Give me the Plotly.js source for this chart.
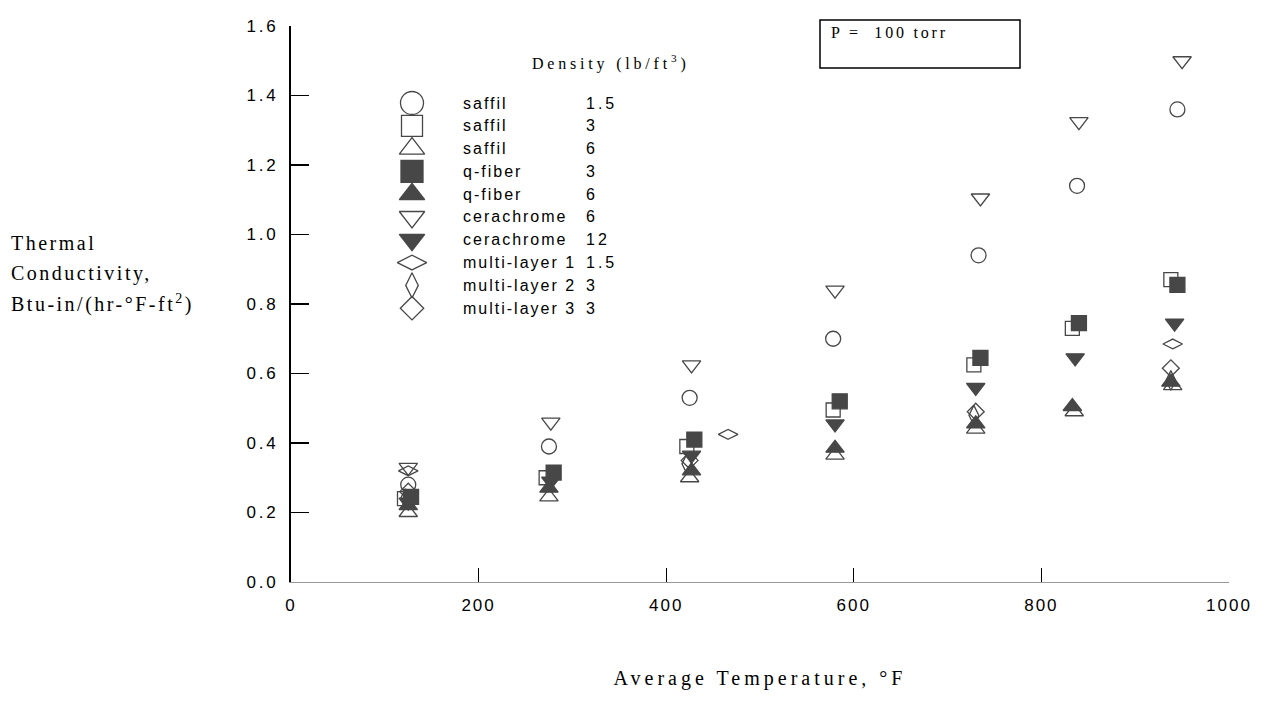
<!DOCTYPE html>
<html>
<head>
<meta charset="utf-8">
<script src="https://cdn.plot.ly/plotly-3.0.1.min.js"></script>
<style>html,body{margin:0;padding:0;background:#fff;}#chart{width:1264px;height:719px;}</style>
</head>
<body>
<div id="chart"></div>
<script>
// ---------- DATA ----------
const materials = ['saffil','saffil','saffil','q-fiber','q-fiber','cerachrome','cerachrome','multi-layer 1','multi-layer 2','multi-layer 3'];
const densities = ['1.5','3','6','3','6','6','12','1.5','3','3'];

const saffil15_T = [125, 275, 425, 578, 733, 838, 945];
const saffil15_k = [0.28, 0.39, 0.53, 0.70, 0.94, 1.14, 1.36];
const saffil3_T  = [121, 272, 422, 578, 728, 833, 938];
const saffil3_k  = [0.24, 0.30, 0.39, 0.495, 0.625, 0.73, 0.87];
const saffil6_T  = [125, 275, 425, 580, 730, 835, 940];
const saffil6_k  = [0.20, 0.245, 0.30, 0.365, 0.44, 0.49, 0.565];
const qfiber3_T  = [128, 280, 430, 585, 735, 840, 945];
const qfiber3_k  = [0.245, 0.315, 0.41, 0.52, 0.645, 0.745, 0.855];
const qfiber6_T  = [125, 275, 427, 580, 730, 833, 938];
const qfiber6_k  = [0.22, 0.27, 0.32, 0.385, 0.455, 0.505, 0.575];
const cera6_T    = [125, 277, 427, 580, 735, 840, 950];
const cera6_k    = [0.33, 0.46, 0.625, 0.84, 1.105, 1.325, 1.50];
const cera12_T   = [125, 277, 427, 580, 730, 836, 942];
const cera12_k   = [0.23, 0.29, 0.365, 0.455, 0.56, 0.645, 0.745];
const ml1_T      = [125, 466, 940];
const ml1_k      = [0.32, 0.425, 0.685];
const ml2_T      = [122, 422, 728, 938];
const ml2_k      = [0.24, 0.34, 0.48, 0.58];
const ml3_T      = [125, 425, 730, 938];
const ml3_k      = [0.26, 0.35, 0.49, 0.615];

const xTicks = [0, 200, 400, 600, 800, 1000];
const yTicks = [0, 0.2, 0.4, 0.6, 0.8, 1.0, 1.2, 1.4, 1.6];

// ---------- STYLE ----------
const DARK = '#474747';
const seriesT = [saffil15_T, saffil3_T, saffil6_T, qfiber3_T, qfiber6_T, cera6_T, cera12_T, ml1_T, ml2_T, ml3_T];
const seriesK = [saffil15_k, saffil3_k, saffil6_k, qfiber3_k, qfiber6_k, cera6_k, cera12_k, ml1_k, ml2_k, ml3_k];
const symbols = ['circle-open','square-open','triangle-up-open','square','triangle-up','triangle-down-open','triangle-down','diamond-wide-open','diamond-tall-open','diamond-open'];
const plotSizes = [15, 14, 16, 15, 16, 16, 16, 14, 14, 13];
const legendSizes = [23, 21, 22, 22, 22, 22, 22, 21, 18, 18];

const L = 291, R = 1229, T = 26, B = 582;
const px = x => (x - L) / (R - L);
const py = y => (B - y) / (B - T);
const spaced = (t, ls) => '<span style="letter-spacing:' + ls + 'px">' + t + '</span>';

const traces = seriesT.map((xs, i) => ({
  type: 'scatter', mode: 'markers',
  name: materials[i] + ' ' + densities[i],
  x: xs, y: seriesK[i],
  cliponaxis: false,
  marker: {
    symbol: symbols[i], size: plotSizes[i], opacity: 1,
    color: DARK,
    line: {color: symbols[i].endsWith('open') ? '#555' : DARK, width: 1.3}
  },
  hoverinfo: 'x+y+name'
}));

// hand-built legend
const rowY = i => 103 + i * 22.8;
traces.push({
  type: 'scatter', mode: 'markers', xaxis: 'x2', yaxis: 'y2',
  x: materials.map(() => 412), y: materials.map((_, i) => rowY(i)),
  cliponaxis: false, showlegend: false, hoverinfo: 'skip',
  marker: {
    symbol: symbols, size: legendSizes, color: DARK, opacity: 1,
    line: {color: symbols.map(s => s.endsWith('open') ? '#555' : DARK), width: 1.3}
  }
});

const sans = {family: 'Liberation Sans, Arial, sans-serif', size: 16, color: '#000'};
const serif = {family: 'Liberation Serif, Times New Roman, serif', size: 16, color: '#000'};
const serifBig = {family: 'Liberation Serif, Times New Roman, serif', size: 20, color: '#000'};

const annotations = [];
materials.forEach((m, i) => {
  annotations.push({xref: 'paper', yref: 'paper', x: px(461), y: py(rowY(i)), xanchor: 'left', yanchor: 'middle',
    text: spaced(m, 2), showarrow: false, font: sans});
  annotations.push({xref: 'paper', yref: 'paper', x: px(584), y: py(rowY(i)), xanchor: 'left', yanchor: 'middle',
    text: spaced(densities[i], 3), showarrow: false, font: sans});
});
annotations.push({xref: 'paper', yref: 'paper', x: px(530), y: py(62), xanchor: 'left', yanchor: 'middle',
  text: spaced('Density (lb/ft<sup>3</sup>)', 3.8), showarrow: false, font: serif});
annotations.push({xref: 'paper', yref: 'paper', x: px(829), y: py(32), xanchor: 'left', yanchor: 'middle',
  text: spaced('P = \u00a0100 torr', 2.8), showarrow: false, font: serif});
['Thermal', 'Conductivity,', 'Btu-in/(hr-°F-ft<sup>2</sup>)'].forEach((t, i) => {
  annotations.push({xref: 'paper', yref: 'paper', x: px(9), y: py(243 + i * 30), xanchor: 'left', yanchor: 'middle',
    text: spaced(t, 2.5), showarrow: false, font: serifBig});
});

const tickFont = {family: 'Liberation Sans, Arial, sans-serif', size: 17, color: '#000'};

const layout = {
  width: 1264, height: 719,
  margin: {l: L, r: 1264 - R, t: T, b: 719 - B, pad: 0},
  paper_bgcolor: '#fff', plot_bgcolor: '#fff',
  showlegend: false,
  xaxis: {
    range: [0, 1000], tickvals: xTicks, ticktext: xTicks.map(v => spaced(String(v), 2)),
    ticks: 'inside', ticklen: 14, tickwidth: 1.2, tickcolor: '#000',
    showline: true, linecolor: '#999', linewidth: 1,
    showgrid: false, zeroline: false, ticklabelstandoff: 8,
    tickfont: tickFont,
    title: {text: spaced('Average Temperature, °F', 4), font: serifBig, standoff: 56}
  },
  yaxis: {
    range: [0, 1.6], tickvals: yTicks, ticktext: yTicks.map(v => spaced(v.toFixed(1), 2.8)),
    ticks: 'inside', ticklen: 18, tickwidth: 1.5, tickcolor: '#000',
    showline: true, linecolor: '#000', linewidth: 2,
    showgrid: false, zeroline: false, ticklabelstandoff: 7,
    tickfont: tickFont
  },
  xaxis2: {overlaying: 'x', anchor: 'y2', range: [L, R], visible: false},
  yaxis2: {overlaying: 'y', anchor: 'x2', range: [B, T], visible: false},
  shapes: [{type: 'rect', xref: 'paper', yref: 'paper', x0: px(820), x1: px(1020), y0: py(68), y1: py(20),
    line: {color: '#000', width: 1.5}, fillcolor: 'rgba(0,0,0,0)'}],
  annotations: annotations
};

Plotly.newPlot('chart', traces, layout, {displayModeBar: false, staticPlot: true});
</script>
</body>
</html>
